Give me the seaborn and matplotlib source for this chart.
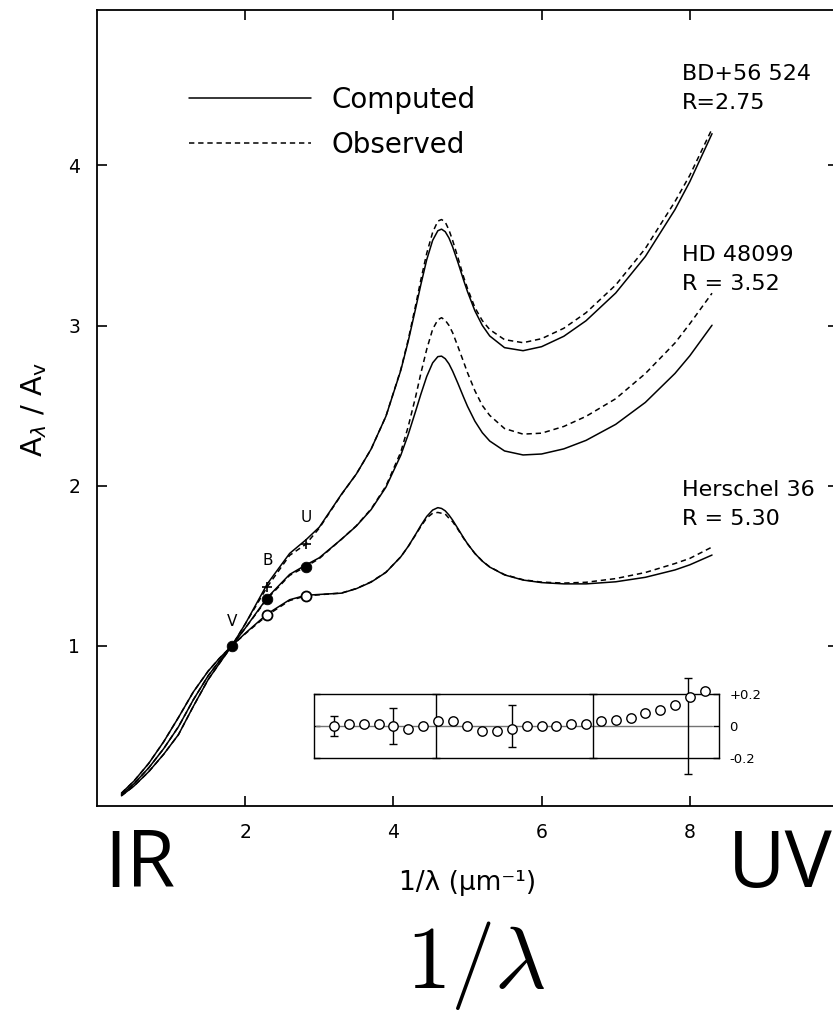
import matplotlib
matplotlib.use("Agg")
import matplotlib.pyplot as plt
import seaborn as sns
import pandas as pd
from matplotlib.lines import Line2D

# ---------------- data ----------------
inv_wavelength = [0.33, 0.5, 0.7, 0.9, 1.1, 1.3, 1.5, 1.65, 1.82, 2.0, 2.3, 2.6, 2.82, 3.0,
                  3.3, 3.5, 3.7, 3.9, 4.1, 4.2, 4.3, 4.37, 4.45, 4.53, 4.6, 4.65, 4.7, 4.75,
                  4.8, 4.87, 4.95, 5.0, 5.1, 5.2, 5.3, 5.5, 5.75, 6.0, 6.3, 6.6, 7.0, 7.4,
                  7.8, 8.0, 8.3]

computed_bd = [0.064, 0.125, 0.215, 0.323, 0.446, 0.622, 0.789, 0.889, 1.000, 1.136, 1.388,
               1.577, 1.662, 1.741, 1.947, 2.073, 2.229, 2.434, 2.720, 2.901, 3.106, 3.254,
               3.411, 3.532, 3.592, 3.602, 3.586, 3.547, 3.491, 3.396, 3.280, 3.212, 3.092,
               3.001, 2.935, 2.862, 2.843, 2.868, 2.933, 3.030, 3.203, 3.431, 3.724, 3.898,
               4.198]
observed_bd = [0.064, 0.125, 0.215, 0.323, 0.446, 0.622, 0.789, 0.889, 1.000, 1.136, 1.370,
               1.565, 1.635, 1.735, 1.945, 2.073, 2.229, 2.434, 2.725, 2.911, 3.126, 3.284,
               3.451, 3.582, 3.652, 3.662, 3.646, 3.597, 3.531, 3.426, 3.300, 3.232, 3.112,
               3.031, 2.975, 2.912, 2.893, 2.918, 2.983, 3.080, 3.253, 3.481, 3.774, 3.938,
               4.228]

computed_hd = [0.071, 0.139, 0.239, 0.358, 0.495, 0.663, 0.813, 0.904, 1.000, 1.110, 1.302,
               1.446, 1.505, 1.550, 1.666, 1.748, 1.851, 1.991, 2.190, 2.319, 2.465, 2.570,
               2.682, 2.767, 2.806, 2.809, 2.793, 2.761, 2.715, 2.640, 2.550, 2.496, 2.403,
               2.331, 2.279, 2.217, 2.192, 2.198, 2.230, 2.283, 2.383, 2.520, 2.701, 2.811,
               3.002]
observed_hd = [0.071, 0.139, 0.239, 0.358, 0.495, 0.663, 0.813, 0.904, 1.000, 1.110, 1.295,
               1.440, 1.495, 1.545, 1.666, 1.750, 1.855, 1.998, 2.210, 2.369, 2.555, 2.700,
               2.852, 2.977, 3.036, 3.049, 3.033, 3.001, 2.955, 2.870, 2.770, 2.706, 2.593,
               2.501, 2.439, 2.357, 2.322, 2.328, 2.370, 2.433, 2.543, 2.700, 2.891, 3.011,
               3.202]

computed_h36 = [0.080, 0.156, 0.267, 0.401, 0.553, 0.712, 0.842, 0.921, 1.000, 1.078, 1.200,
                1.288, 1.316, 1.321, 1.329, 1.357, 1.398, 1.459, 1.556, 1.621, 1.696, 1.751,
                1.808, 1.848, 1.863, 1.858, 1.843, 1.817, 1.785, 1.733, 1.673, 1.638, 1.577,
                1.529, 1.492, 1.443, 1.411, 1.395, 1.387, 1.387, 1.400, 1.428, 1.474, 1.506,
                1.567]
observed_h36 = [0.080, 0.156, 0.267, 0.401, 0.553, 0.712, 0.842, 0.921, 1.000, 1.075, 1.192,
                1.283, 1.312, 1.319, 1.330, 1.358, 1.400, 1.460, 1.556, 1.620, 1.693, 1.745,
                1.798, 1.828, 1.833, 1.828, 1.823, 1.797, 1.775, 1.728, 1.670, 1.637, 1.577,
                1.530, 1.493, 1.445, 1.413, 1.398, 1.392, 1.397, 1.420, 1.458, 1.514, 1.546,
                1.617]

stars = ["BD+56 524", "HD 48099", "Herschel 36"]
star_r = ["R=2.75", "R = 3.52", "R = 5.30"]
star_label_y = [4.57, 3.44, 1.975]

# photometric points (V, B, U)
band_names = ["V", "B", "U"]
band_x = [1.82, 2.3, 2.82]
band_label_y = [1.15, 1.53, 1.80]
v_point = [1.00]
bd_points = [1.37, 1.635]
hd_points = [1.295, 1.495]
h36_points = [1.192, 1.312]

# residual inset (observed - computed)
resid_x = [3.2, 3.4, 3.6, 3.8, 4.0, 4.2, 4.4, 4.6, 4.8, 5.0, 5.2, 5.4, 5.6, 5.8, 6.0, 6.2,
           6.4, 6.6, 6.8, 7.0, 7.2, 7.4, 7.6, 7.8, 8.0, 8.2]
resid_y = [0.00, 0.01, 0.01, 0.01, 0.00, -0.02, 0.00, 0.03, 0.03, 0.00, -0.03, -0.03, -0.02,
           0.00, 0.00, 0.00, 0.01, 0.01, 0.03, 0.04, 0.05, 0.08, 0.10, 0.13, 0.18, 0.22]
err_x = [3.2, 4.0, 4.57, 5.6, 6.7, 7.98]
err_half = [0.06, 0.11, 0.20, 0.13, 0.20, 0.30]

# ---------------- build long table ----------------
rows = []
for star, comp, obs in zip(stars, [computed_bd, computed_hd, computed_h36],
                           [observed_bd, observed_hd, observed_h36]):
    for xv, yv in zip(inv_wavelength, comp):
        rows.append((star, "Computed", xv, yv))
    for xv, yv in zip(inv_wavelength, obs):
        rows.append((star, "Observed", xv, yv))
df = pd.DataFrame(rows, columns=["star", "kind", "x", "y"])

# ---------------- figure ----------------
sns.set_theme(style="ticks")
plt.rcParams['font.family'] = ['DejaVu Sans']
plt.rcParams.update({
    'axes.edgecolor': 'black', 'text.color': 'black', 'axes.labelcolor': 'black',
    'xtick.color': 'black', 'ytick.color': 'black',
})

fig = plt.figure(figsize=(8.33, 10.15), dpi=100)
ax = fig.add_axes([0.1164, 0.2059, 0.8896, 0.7842])

sns.lineplot(data=df, x="x", y="y", hue="star", style="kind",
             palette={s: "black" for s in stars},
             dashes={"Computed": "", "Observed": (3.5, 2.5)},
             estimator=None, sort=False, linewidth=1.1, legend=False, ax=ax)

# photometric points
sns.scatterplot(x=[band_x[0]], y=v_point, color="black", s=58, edgecolor="black",
                ax=ax, zorder=5, legend=False)
sns.scatterplot(x=band_x[1:], y=hd_points, color="black", s=58, edgecolor="black",
                ax=ax, zorder=5, legend=False)
sns.scatterplot(x=band_x[1:], y=h36_points, color="white", s=52, edgecolor="black",
                linewidth=1.3, ax=ax, zorder=5, legend=False)
sns.scatterplot(x=band_x[1:], y=bd_points, color="black", marker="+", s=45,
                linewidth=1.2, ax=ax, zorder=5, legend=False)
for name, bx, by in zip(band_names, band_x, band_label_y):
    ax.text(bx, by, name, fontsize=11, ha="center", va="center")

# star labels
for star, r, ly in zip(stars, star_r, star_label_y):
    ax.text(7.89, ly, star, fontsize=16, ha="left", va="center")
    ax.text(7.89, ly - 0.18, r, fontsize=16, ha="left", va="center")

# axes styling
ax.set_xlim(0, 10)
ax.set_ylim(0, 4.97)
ax.set_xticks([2, 4, 6, 8])
ax.set_yticks([1, 2, 3, 4])
ax.tick_params(direction="in", length=7, width=1.2, labelsize=13.5, pad=12,
               top=True, right=True, colors="black")
for sp in ax.spines.values():
    sp.set_linewidth(1.3)
    sp.set_color("black")

ax.set_xlabel("1/λ (μm⁻¹)", fontsize=19)
ax.xaxis.set_label_coords(0.5, -0.097)
ax.xaxis.label.set_va("center")
ax.set_ylabel(r"$\mathrm{A}_{\lambda}\ /\ \mathrm{A}_{\mathrm{v}}$", fontsize=21)
ax.yaxis.set_label_coords(-0.085, 0.499)
ax.yaxis.label.set_va("center")

# legend
handles = [Line2D([], [], color="black", lw=1.1),
           Line2D([], [], color="black", lw=1.1, dashes=(3.5, 2.5))]
ax.legend(handles, ["Computed", "Observed"], loc="upper left",
          bbox_to_anchor=(0.124, 0.905), frameon=False, fontsize=20,
          handlelength=4.4, handletextpad=0.75, labelspacing=0.62,
          borderpad=0, borderaxespad=0)

# residual inset sharing the main x scale
ax_in = ax.inset_axes([2.93, 0.3, 8.40 - 2.93, 0.4], transform=ax.transData)
ax_in.set_xlim(2.93, 8.40)
ax_in.set_ylim(-0.2, 0.2)
ax_in.patch.set_alpha(0)
ax_in.set_xticks([])
ax_in.yaxis.tick_right()
ax_in.set_yticks([-0.2, 0, 0.2])
ax_in.set_yticklabels(["-0.2", "0", "+0.2"])
ax_in.tick_params(axis="y", direction="in", length=4, width=1.0, labelsize=9.5, pad=7,
                  left=True, right=True, colors="black")
for sp in ax_in.spines.values():
    sp.set_linewidth(1.0)
    sp.set_color("black")
ax_in.axhline(0, xmin=0.004, xmax=0.982, color="0.45", lw=1.0, zorder=1)
eb = ax_in.errorbar(err_x, [0] * len(err_x), yerr=err_half, fmt="none", ecolor="black",
                    elinewidth=1.0, capsize=3, capthick=1.0, zorder=2)
for art in list(eb[1]) + list(eb[2]):
    art.set_clip_on(False)
sns.scatterplot(x=resid_x, y=resid_y, ax=ax_in, marker="o", s=46, color="white",
                edgecolor="black", linewidth=1.0, zorder=3, legend=False, clip_on=False)

# large annotations below the axes
fig.text(104 / 833, 1 - 887 / 1015, "IR", fontsize=57, family=["Open Sans", "DejaVu Sans"],
         ha="left", va="baseline")
fig.text(728 / 833, 1 - 887 / 1015, "UV", fontsize=57, family=["Open Sans", "DejaVu Sans"],
         ha="left", va="baseline")
fig.text(476 / 833, 1 - 988 / 1015, r"$1/\lambda$", fontsize=64, math_fontfamily="cm",
         ha="center", va="baseline")

fig.savefig("out.png", dpi=100)
